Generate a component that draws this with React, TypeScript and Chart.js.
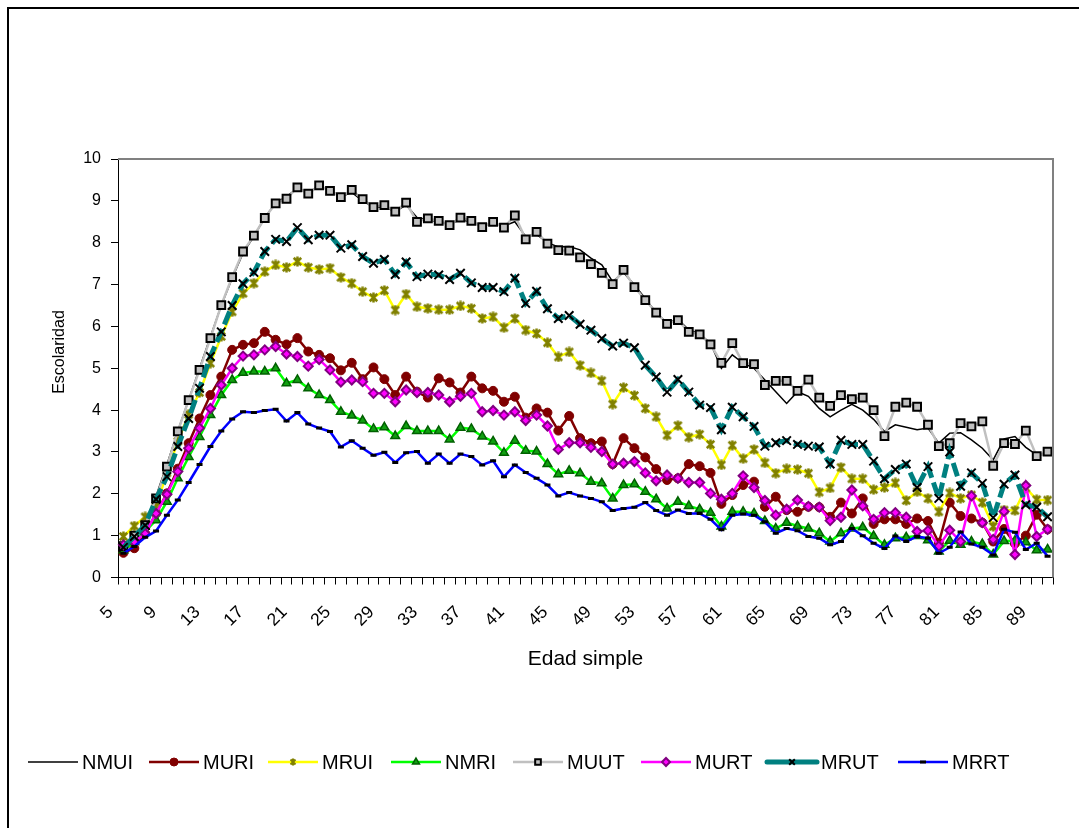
import React, { useEffect, useRef } from 'react';
import { Chart, registerables } from 'chart.js';
import { drawPoint } from 'chart.js/helpers';

Chart.register(...registerables);

// Single ages 5..90
const ages = [
  5, 6, 7, 8, 9, 10, 11, 12, 13, 14, 15, 16, 17, 18, 19, 20, 21, 22, 23, 24,
  25, 26, 27, 28, 29, 30, 31, 32, 33, 34, 35, 36, 37, 38, 39, 40, 41, 42, 43, 44,
  45, 46, 47, 48, 49, 50, 51, 52, 53, 54, 55, 56, 57, 58, 59, 60, 61, 62, 63, 64,
  65, 66, 67, 68, 69, 70, 71, 72, 73, 74, 75, 76, 77, 78, 79, 80, 81, 82, 83, 84,
  85, 86, 87, 88, 89, 90,
];

// Ages that carry a visible label on the x axis
const tickAges = [5, 9, 13, 17, 21, 25, 29, 33, 37, 41, 45, 49, 53, 57, 61, 65, 69, 73, 77, 81, 85, 89];

const NMUI = [
  0.7, 0.95, 1.3, 1.95, 2.7, 3.5, 4.25, 5.0, 5.75, 6.5, 7.15, 7.75, 8.15, 8.6, 8.95, 9.1, 9.3, 9.2, 9.35, 9.25,
  9.1, 9.2, 9.0, 8.85, 8.85, 8.75, 8.9, 8.6, 8.55, 8.5, 8.45, 8.55, 8.5, 8.4, 8.45, 8.4, 8.5, 8.15, 8.2, 8.0,
  7.9, 7.91, 7.83, 7.63, 7.47, 7.07, 7.29, 6.99, 6.67, 6.33, 6.08, 6.17, 5.92, 5.82, 5.6, 5.0, 5.32, 5.12, 5.0, 4.72,
  4.44, 4.16, 4.44, 4.33, 4.04, 3.84, 4.0, 4.14, 4.0, 3.78, 3.49, 3.65, 3.59, 3.53, 3.57, 3.21, 3.45, 3.46, 3.29, 3.09,
  2.81, 3.31, 3.37, 3.11, 2.93, 2.95,
];

const MURI = [
  0.59, 0.7, 1.05, 1.53, 2.01, 2.6, 3.21, 3.8, 4.36, 4.8, 5.44, 5.56, 5.6, 5.87, 5.68, 5.57, 5.72, 5.4, 5.32, 5.24,
  4.95, 5.13, 4.74, 5.02, 4.74, 4.36, 4.8, 4.44, 4.3, 4.76, 4.66, 4.42, 4.8, 4.52, 4.46, 4.2, 4.32, 3.82, 4.04, 3.94,
  3.51, 3.86, 3.33, 3.21, 3.25, 2.71, 3.33, 3.09, 2.87, 2.59, 2.33, 2.37, 2.71, 2.66, 2.5, 1.76, 1.97, 2.21, 2.29, 1.69,
  1.93, 1.61, 1.57, 1.69, 1.68, 1.45, 1.79, 1.53, 1.89, 1.28, 1.39, 1.39, 1.28, 1.41, 1.35, 0.83, 1.79, 1.47, 1.41, 1.31,
  0.86, 1.16, 0.81, 1.0, 1.5, 1.15,
];

const MRUI = [
  0.98, 1.23, 1.45, 1.69, 2.5, 3.25, 3.9, 4.42, 5.12, 5.76, 6.35, 6.79, 7.03, 7.31, 7.47, 7.41, 7.55, 7.41, 7.36, 7.39,
  7.17, 7.03, 6.83, 6.69, 6.86, 6.39, 6.77, 6.47, 6.43, 6.4, 6.4, 6.49, 6.43, 6.19, 6.23, 5.97, 6.19, 5.91, 5.83, 5.61,
  5.27, 5.39, 5.07, 4.89, 4.7, 4.14, 4.54, 4.35, 4.04, 3.84, 3.4, 3.63, 3.35, 3.42, 3.18, 2.69, 3.16, 2.84, 3.06, 2.74,
  2.49, 2.6, 2.58, 2.49, 2.04, 2.14, 2.63, 2.36, 2.36, 2.1, 2.15, 2.26, 1.84, 2.05, 1.89, 1.57, 2.02, 1.89, 1.97, 1.79,
  1.22, 1.61, 1.6, 2.14, 1.86, 1.85,
];

const NMRI = [
  0.65, 0.85, 1.1, 1.37, 1.81, 2.37, 2.88, 3.36, 3.88, 4.36, 4.72, 4.89, 4.92, 4.92, 5.0, 4.64, 4.72, 4.52, 4.36, 4.24,
  3.96, 3.87, 3.75, 3.55, 3.59, 3.38, 3.62, 3.5, 3.5, 3.5, 3.3, 3.58, 3.55, 3.37, 3.25, 2.98, 3.27, 3.03, 3.01, 2.71,
  2.47, 2.55, 2.49, 2.29, 2.25, 1.89, 2.21, 2.23, 2.05, 1.87, 1.65, 1.81, 1.71, 1.63, 1.55, 1.22, 1.57, 1.57, 1.53, 1.35,
  1.17, 1.31, 1.23, 1.17, 1.06, 0.86, 1.06, 1.17, 1.2, 0.99, 0.78, 0.94, 0.96, 0.99, 0.89, 0.62, 0.88, 0.78, 0.86, 0.8,
  0.55, 0.87, 0.88, 0.84, 0.65, 0.67,
];

const MUUT = [
  0.75, 1.0, 1.25, 1.89, 2.65, 3.49, 4.24, 4.96, 5.72, 6.51, 7.18, 7.79, 8.17, 8.59, 8.94, 9.05, 9.32, 9.17, 9.37, 9.24,
  9.09, 9.26, 9.04, 8.85, 8.9, 8.74, 8.96, 8.5, 8.58, 8.52, 8.42, 8.6, 8.52, 8.37, 8.5, 8.36, 8.65, 8.08, 8.26, 7.98,
  7.82, 7.81, 7.65, 7.49, 7.28, 7.01, 7.35, 6.94, 6.63, 6.33, 6.06, 6.15, 5.87, 5.81, 5.57, 5.13, 5.6, 5.12, 5.1, 4.6,
  4.7, 4.7, 4.46, 4.73, 4.3, 4.1, 4.36, 4.26, 4.3, 4.0, 3.38, 4.08, 4.18, 4.08, 3.65, 3.14, 3.21, 3.69, 3.61, 3.73,
  2.67, 3.21, 3.19, 3.51, 2.9, 3.01,
];

const MURT = [
  0.78, 0.85, 1.05, 1.53, 1.99, 2.53, 3.09, 3.57, 4.04, 4.6, 5.0, 5.29, 5.32, 5.44, 5.52, 5.34, 5.28, 5.05, 5.21, 4.96,
  4.67, 4.72, 4.68, 4.4, 4.4, 4.2, 4.48, 4.42, 4.42, 4.36, 4.2, 4.33, 4.4, 3.96, 3.99, 3.88, 3.96, 3.75, 3.88, 3.62,
  3.06, 3.22, 3.22, 3.11, 3.01, 2.71, 2.73, 2.77, 2.5, 2.31, 2.45, 2.37, 2.27, 2.27, 2.01, 1.87, 2.01, 2.43, 2.15, 1.84,
  1.49, 1.63, 1.85, 1.7, 1.68, 1.36, 1.44, 2.09, 1.71, 1.39, 1.55, 1.55, 1.44, 1.1, 1.12, 0.75, 1.13, 0.86, 1.95, 1.31,
  0.91, 1.58, 0.55, 2.2, 0.98, 1.15,
];

const MRUT = [
  0.72, 0.98, 1.25, 1.87, 2.41, 3.13, 3.8, 4.52, 5.28, 5.87, 6.5, 7.02, 7.29, 7.79, 8.08, 8.03, 8.36, 8.07, 8.18, 8.18,
  7.87, 7.95, 7.67, 7.51, 7.6, 7.24, 7.54, 7.19, 7.25, 7.23, 7.12, 7.27, 7.04, 6.93, 6.93, 6.83, 7.15, 6.55, 6.84, 6.42,
  6.19, 6.26, 6.05, 5.91, 5.71, 5.53, 5.6, 5.49, 5.07, 4.79, 4.43, 4.73, 4.43, 4.12, 4.06, 3.53, 4.07, 3.84, 3.61, 3.14,
  3.22, 3.27, 3.18, 3.14, 3.12, 2.71, 3.28, 3.18, 3.18, 2.78, 2.36, 2.58, 2.71, 2.15, 2.65, 1.89, 3.0, 2.18, 2.5, 2.25,
  1.43, 2.23, 2.45, 1.74, 1.68, 1.45,
];

const MRRT = [
  0.58, 0.74, 0.96, 1.11, 1.49, 1.85, 2.27, 2.7, 3.13, 3.5, 3.79, 3.96, 3.94, 3.99, 4.02, 3.74, 3.94, 3.67, 3.57, 3.49,
  3.12, 3.27, 3.09, 2.92, 2.99, 2.75, 2.98, 3.01, 2.73, 2.95, 2.73, 2.95, 2.89, 2.69, 2.79, 2.41, 2.69, 2.51, 2.37, 2.21,
  1.95, 2.03, 1.95, 1.89, 1.81, 1.6, 1.65, 1.68, 1.79, 1.6, 1.49, 1.61, 1.53, 1.53, 1.39, 1.14, 1.49, 1.52, 1.49, 1.33,
  1.06, 1.17, 1.12, 0.98, 0.94, 0.78, 0.86, 1.17, 1.0, 0.82, 0.69, 0.99, 0.86, 0.98, 0.94, 0.58, 0.72, 1.09, 0.8, 0.72,
  0.54, 1.15, 1.08, 0.67, 0.82, 0.51,
];

const FONT = '"Liberation Sans", Arial, sans-serif';
const X_TITLE = 'Edad simple';
const Y_TITLE = 'Escolaridad';

// Left x of each legend line sample
const legendX = [28, 149, 268, 391, 513, 641, 767, 898];
const legendY = 762;

// Asterisk marker: an X crossed by a vertical bar
function makeAsterisk(size: number, color: string, width: number) {
  const c = document.createElement('canvas');
  c.width = size;
  c.height = size;
  const g = c.getContext('2d')!;
  const m = width / 2 + 0.5;
  g.strokeStyle = color;
  g.lineWidth = width;
  g.beginPath();
  g.moveTo(m, m);
  g.lineTo(size - m, size - m);
  g.moveTo(size - m, m);
  g.lineTo(m, size - m);
  g.moveTo(size / 2, 0.5);
  g.lineTo(size / 2, size - 0.5);
  g.stroke();
  return c;
}

const plotFrame = {
  id: 'plotFrame',
  afterDatasetsDraw(chart: any) {
    const { ctx, chartArea } = chart;
    ctx.save();
    ctx.strokeStyle = '#808080';
    ctx.lineWidth = 2;
    ctx.beginPath();
    ctx.moveTo(chartArea.left, chartArea.top);
    ctx.lineTo(chartArea.right, chartArea.top);
    ctx.lineTo(chartArea.right, chartArea.bottom);
    ctx.stroke();
    ctx.restore();
  },
};

// Rotated category labels and the two axis titles
const axisText = {
  id: 'axisText',
  afterDraw(chart: any) {
    const { ctx, chartArea } = chart;
    const xs = chart.scales.x;
    ctx.save();
    ctx.fillStyle = '#000';
    ctx.font = `17.5px ${FONT}`;
    ctx.textAlign = 'right';
    ctx.textBaseline = 'middle';
    ages.forEach((a, i) => {
      if (!tickAges.includes(a)) return;
      const px = xs.getPixelForValue(i);
      ctx.save();
      ctx.translate(px - 13, chartArea.bottom + 32);
      ctx.rotate(-Math.PI / 4);
      ctx.fillText(String(a), 0, 0);
      ctx.restore();
    });
    ctx.textAlign = 'center';
    ctx.font = `21px ${FONT}`;
    ctx.fillText(X_TITLE, (chartArea.left + chartArea.right) / 2, 659);
    ctx.save();
    ctx.translate(60, 352);
    ctx.rotate(-Math.PI / 2);
    ctx.font = `16px ${FONT}`;
    ctx.fillText(Y_TITLE, 0, 0);
    ctx.restore();
    ctx.restore();
  },
};

const seriesLegend = {
  id: 'seriesLegend',
  afterDraw(chart: any) {
    const ctx = chart.ctx;
    ctx.save();
    chart.data.datasets.forEach((ds: any, k: number) => {
      const x0 = legendX[k];
      const x1 = x0 + 50;
      ctx.setLineDash([]);
      ctx.lineCap = ds.label === 'MRUT' ? 'round' : 'butt';
      ctx.strokeStyle = ds.borderColor;
      ctx.lineWidth = ds.borderWidth;
      ctx.beginPath();
      ctx.moveTo(x0, legendY);
      ctx.lineTo(x1, legendY);
      ctx.stroke();
      if (ds.pointRadius > 0) {
        ctx.lineCap = 'butt';
        ctx.fillStyle = ds.pointBackgroundColor || ds.pointBorderColor;
        ctx.strokeStyle = ds.pointBorderColor;
        ctx.lineWidth = ds.pointBorderWidth;
        drawPoint(ctx, {
          pointStyle: ds.legendStyle || ds.pointStyle,
          rotation: 0,
          radius: Math.min(ds.pointRadius, 4),
          borderWidth: ds.pointBorderWidth,
        } as any, (x0 + x1) / 2, legendY);
      }
      ctx.fillStyle = '#000';
      ctx.font = `20px ${FONT}`;
      ctx.textAlign = 'left';
      ctx.textBaseline = 'middle';
      ctx.fillText(ds.label, x1 + 4, legendY + 1);
    });
    ctx.restore();
  },
};

export default function App() {
  const ref = useRef<HTMLCanvasElement>(null);

  useEffect(() => {
    const canvas = ref.current;
    if (!canvas) return;
    const labels = ages.map(String);
    const asterisk = makeAsterisk(11, '#808000', 2.5);
    const asteriskSmall = makeAsterisk(8, '#808000', 2);
    const chart = new Chart(canvas, {
      type: 'line',
      data: {
        labels,
        datasets: [
          { label: 'NMUI', data: NMUI, borderColor: '#000000', borderWidth: 1.5, pointRadius: 0, order: 8 },
          {
            label: 'MURI', data: MURI, borderColor: '#800000', borderWidth: 2.5,
            pointStyle: 'circle', pointRadius: 4.5, pointBackgroundColor: '#800000',
            pointBorderColor: '#800000', pointBorderWidth: 1, order: 7,
          },
          {
            label: 'MRUI', data: MRUI, borderColor: '#FFFF00', borderWidth: 2.5,
            pointStyle: asterisk, legendStyle: asteriskSmall, pointRadius: 5.5, pointBackgroundColor: '#808000',
            pointBorderColor: '#808000', pointBorderWidth: 2.5, order: 6,
          } as any,
          {
            label: 'NMRI', data: NMRI, borderColor: '#00FF00', borderWidth: 2.5,
            pointStyle: 'triangle', pointRadius: 5, pointBackgroundColor: '#10A010',
            pointBorderColor: '#006000', pointBorderWidth: 1.5, order: 5,
          },
          {
            label: 'MUUT', data: MUUT, borderColor: '#C0C0C0', borderWidth: 2.5,
            pointStyle: 'rect', pointRadius: 5.5, pointBackgroundColor: '#C0C0C0',
            pointBorderColor: '#000000', pointBorderWidth: 2, order: 4,
          },
          {
            label: 'MURT', data: MURT, borderColor: '#FF00FF', borderWidth: 2.5,
            pointStyle: 'rectRot', pointRadius: 4.5, pointBackgroundColor: '#FF00FF',
            pointBorderColor: '#800080', pointBorderWidth: 2, order: 3,
          },
          {
            label: 'MRUT', data: MRUT, borderColor: '#008080', borderWidth: 5, borderDash: [14, 5],
            pointStyle: 'crossRot', pointRadius: 6, pointBackgroundColor: '#000000',
            pointBorderColor: '#000000', pointBorderWidth: 2, order: 2,
          },
          {
            label: 'MRRT', data: MRRT, borderColor: '#0000FF', borderWidth: 2.5,
            pointStyle: 'line', pointRadius: 3, pointBackgroundColor: '#000000',
            pointBorderColor: '#000000', pointBorderWidth: 3, order: 1,
          },
        ],
      },
      options: {
        responsive: false,
        animation: false,
        devicePixelRatio: 1,
        layout: { padding: { left: 0, top: 159, right: 26, bottom: 120.5 } },
        elements: { line: { tension: 0, fill: false } },
        plugins: {
          legend: { display: false },
          tooltip: { enabled: false },
        },
        scales: {
          x: {
            type: 'category',
            offset: true,
            afterFit: (s: any) => { s.height = 130; },
            grid: {
              display: true, drawOnChartArea: false, drawTicks: true,
              tickLength: 7, offset: true, color: '#000000', lineWidth: 1,
            },
            border: { display: true, color: '#000000', width: 1 },
            ticks: {
              autoSkip: false, maxRotation: 0, minRotation: 0,
              color: 'rgba(0,0,0,0)', font: { family: FONT, size: 16 },
              callback: () => '',
            },
          },
          y: {
            min: 0, max: 10,
            afterFit: (s: any) => { s.width = 118; },
            grid: {
              display: true, drawOnChartArea: false, drawTicks: true,
              tickLength: 7, color: '#000000', lineWidth: 1,
            },
            border: { display: true, color: '#000000', width: 1 },
            ticks: {
              stepSize: 1, padding: 10, color: '#000000',
              font: { family: FONT, size: 16 },
            },
          },
        },
      },
      plugins: [plotFrame, axisText, seriesLegend],
    });
    return () => chart.destroy();
  }, []);

  return (
    <div style={{ position: 'absolute', left: 0, top: 0, width: 1079, height: 828, overflow: 'hidden', background: '#ffffff' }}>
      <div
        style={{
          position: 'absolute', left: 7, top: 7, width: 1090, height: 840,
          borderTop: '2px solid #000', borderLeft: '2px solid #000', boxSizing: 'border-box',
        }}
      />
      <canvas ref={ref} width={1079} height={828} style={{ position: 'absolute', left: 0, top: 0, width: 1079, height: 828 }} />
    </div>
  );
}
